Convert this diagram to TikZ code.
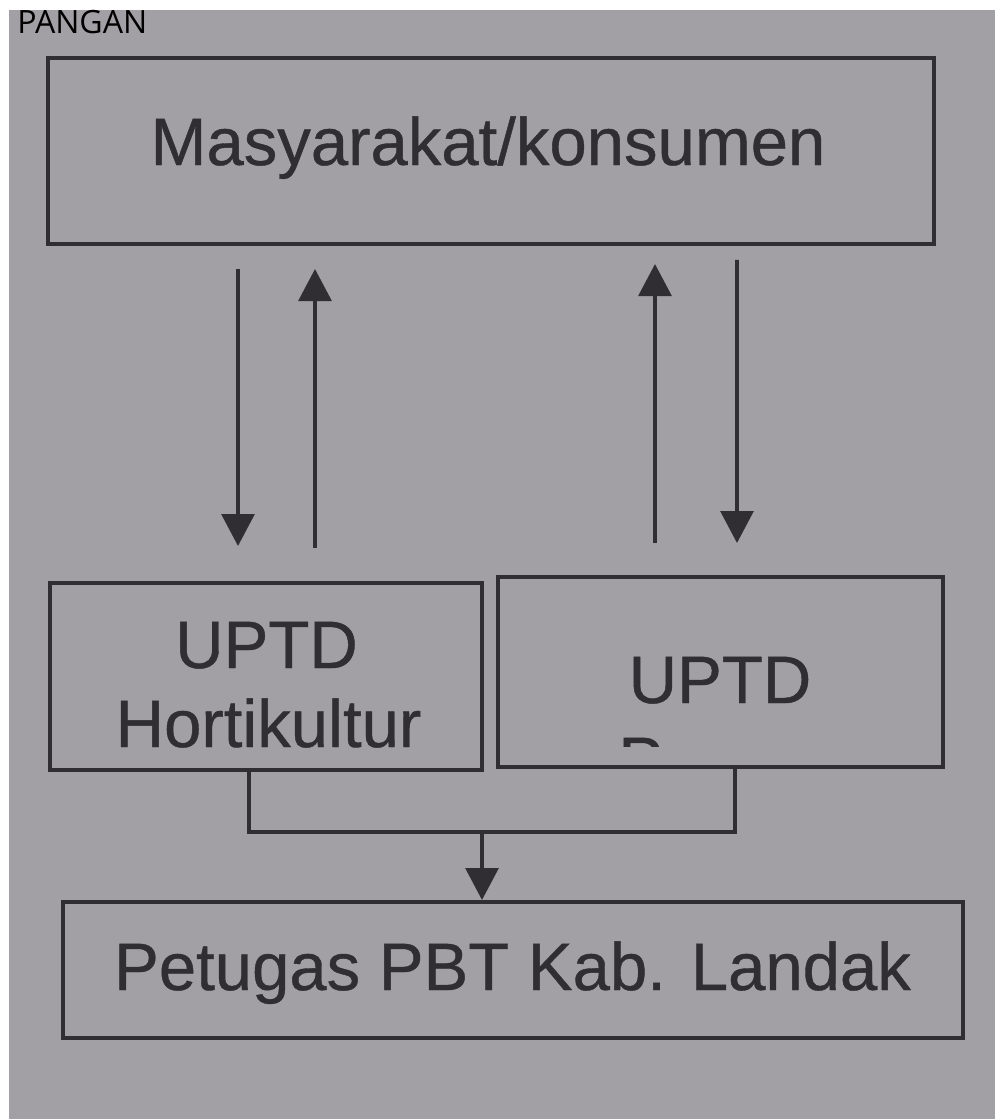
\documentclass[tikz,border=0pt]{standalone}
\usepackage{fontspec}
\setmainfont{Liberation Sans}
\newfontfamily\boxfont[FakeBold=0.6]{Liberation Sans}
\newfontfamily\headfont{Open Sans}
\usetikzlibrary{arrows.meta, positioning, calc}
\definecolor{paper}{RGB}{162,160,164}
\definecolor{ink}{RGB}{48,46,51}

\begin{document}
\begin{tikzpicture}[
  x=0.025cm, y=-0.025cm,
  box/.style={draw=ink, line width=2.8pt, inner sep=0pt},
  lbl/.style={text=ink, font=\boxfont\fontsize{47.7}{56}\selectfont, inner sep=0pt},
  arr/.style={draw=ink, line width=2.6pt, -{Triangle[length=8mm, width=8.2mm]}},
  bus/.style={draw=ink, line width=2.6pt}
]
\useasboundingbox (0,0) rectangle (995,1119);
\fill[white] (0,0) rectangle (995,1119);
\fill[paper] (9,10) rectangle (995,1119);

% Header left over from the page
\node[font=\headfont\fontsize{22.8}{27}\selectfont, anchor=base west, inner sep=0pt] (hdr) at (17,33) {PANGAN};

% Boxes
\node[box, minimum width=22.15cm, minimum height=4.65cm] (masy) at (491,151) {};
\node[lbl, anchor=base] (masyt) at (488,165) {Masyarakat/konsumen};

\node[box, minimum width=10.8cm, minimum height=4.675cm] (hort) at (266,676.5) {};
\node[lbl, anchor=base] (hort1) at (266.5,668) {UPTD};
\node[lbl, anchor=base] (hort2) at (268.5,747) {Hortikultur};

\node[box, minimum width=11.125cm, minimum height=4.75cm] (pangan) at (720.5,672) {};
\node[lbl, anchor=base] (pangant) at (720,703) {UPTD};
\begin{scope}
  \clip (600,733) rectangle (700,746);
  \node[lbl, anchor=base west] (frag) at (618,784) {P};
\end{scope}

\node[box, minimum width=22.5cm, minimum height=3.4cm] (petugas) at (513,970) {};
\node[lbl, anchor=base] (petugast) at (512.5,990) {Petugas PBT Kab. Landak};

% Two-way arrows between the public and the UPTDs
\draw[arr] ($(masy.south)+(-253,23)$) -- ($(hort.north)+(-28,-35)$);
\draw[arr] ($(hort.north)+(49,-33)$) -- ($(masy.south)+(-176,23)$);
\draw[arr] ($(pangan.north)+(-65.5,-32)$) -- ($(masy.south)+(164,18)$);
\draw[arr] ($(masy.south)+(246,14)$) -- ($(pangan.north)+(16.5,-32)$);

% Joined line down to the officer
\coordinate (join) at ($(hort.south)+(216,60)$);
\draw[bus] ($(hort.south)+(-17,0)$) -- ++(0,60) -| ($(pangan.south)+(14.5,0)$);
\draw[arr] (join) -- ($(petugas.north)+(-31,0)$);

\end{tikzpicture}
\end{document}
